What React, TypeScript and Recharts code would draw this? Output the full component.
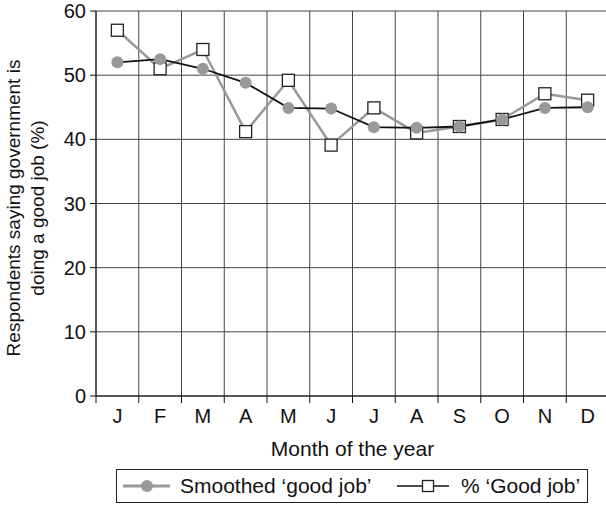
import { CartesianGrid, Legend, Line, LineChart, XAxis, YAxis } from "recharts";

const months = ["J", "F", "M", "A", "M", "J", "J", "A", "S", "O", "N", "D"];
const smoothedGoodJob = [52, 52.5, 51, 48.8, 44.9, 44.8, 41.9, 41.8, 42, 43.1, 44.9, 45];
const pctGoodJob = [57, 51, 54, 41.2, 49.2, 39.1, 44.9, 41, 42, 43.1, 47.1, 46.1];
const yTicks = [0, 10, 20, 30, 40, 50, 60];
const monthEdges = [0, 1, 2, 3, 4, 5, 6, 7, 8, 9, 10, 11, 12];

const FONT = "'Liberation Sans', Arial, Helvetica, sans-serif";
const CHART_W = 620;
const PLOT_W = 513;
const BAND = PLOT_W / months.length;

const data = months.map((m, i) => ({
  pos: i + 0.5,
  month: m,
  smoothed: smoothedGoodJob[i],
  good: pctGoodJob[i],
}));

const MonthTick = (props: any) => {
  const { x, y, payload } = props;
  if (payload.value >= months.length) return null;
  return (
    <text x={x + BAND / 2} y={y + 20} textAnchor="middle" fontSize={20} fill="#111" fontFamily={FONT}>
      {months[payload.value]}
    </text>
  );
};

const SquareDot = (props: any) => {
  const { cx, cy, index } = props;
  if (cx == null || cy == null) return null;
  return <rect key={`sq-${index}`} x={cx - 6} y={cy - 6} width={12} height={12} fill="#fff" stroke="#222" strokeWidth={1.3} />;
};

const YLabel = () => (
  <text transform="translate(0, 208) rotate(-90)" textAnchor="middle" fontSize={19} fill="#111" fontFamily={FONT}>
    <tspan x={0} y={20}>Respondents saying government is</tspan>
    <tspan x={0} y={44}>doing a good job (%)</tspan>
  </text>
);

const LegendBox = () => (
  <svg width={472} height={35} style={{ display: "block" }}>
    <rect x={0.5} y={0.5} width={471} height={33} fill="#fff" stroke="#222" strokeWidth={1} />
    <line x1={7} x2={54} y1={17} y2={17} stroke="#999" strokeWidth={3} />
    <circle cx={31} cy={17} r={6} fill="#999" />
    <text x={64} y={24} fontSize={21} fill="#111" fontFamily={FONT}>
      Smoothed ‘good job’
    </text>
    <line x1={281} x2={333} y1={17} y2={17} stroke="#111" strokeWidth={1.6} />
    <rect x={306.5} y={11.5} width={11} height={11} fill="#fff" stroke="#222" strokeWidth={1.3} />
    <text x={345} y={24} fontSize={21} fill="#111" fontFamily={FONT}>
      % ‘Good job’
    </text>
  </svg>
);

export default function App() {
  return (
    <div style={{ position: "absolute", left: 0, top: 0, width: 606, height: 505, overflow: "hidden", background: "#fff" }}>
      <LineChart width={CHART_W} height={505} data={data} margin={{ top: 11, right: 11, left: 36, bottom: 1 }}>
        <CartesianGrid stroke="#444" strokeWidth={1} ticks={yTicks} />
        <XAxis
          dataKey="pos"
          type="number"
          domain={[0, 12]}
          ticks={monthEdges}
          interval={0}
          tick={<MonthTick />}
          tickSize={7}
          tickMargin={0}
          height={73}
          stroke="#111"
          label={{ value: "Month of the year", position: "insideBottom", offset: 13, fontSize: 21, fill: "#111", fontFamily: FONT }}
        />
        <YAxis
          domain={[0, 60]}
          ticks={yTicks}
          interval={0}
          width={60}
          tickSize={6}
          tickMargin={4}
          stroke="#111"
          tick={{ fontSize: 20, fill: "#111", fontFamily: FONT }}
          label={<YLabel />}
        />
        <Legend
          verticalAlign="bottom"
          content={<LegendBox />}
          wrapperStyle={{ left: 116, width: 472, height: 35 }}
        />
        <Line
          dataKey="good"
          name="% ‘Good job’"
          stroke="#999"
          strokeWidth={2.5}
          dot={<SquareDot />}
          activeDot={false}
          isAnimationActive={false}
        />
        <Line
          dataKey="smoothed"
          name="Smoothed ‘good job’"
          stroke="#111"
          strokeWidth={1.8}
          dot={{ r: 6, fill: "#999", stroke: "#999", strokeWidth: 0 }}
          activeDot={false}
          isAnimationActive={false}
        />
      </LineChart>
    </div>
  );
}
